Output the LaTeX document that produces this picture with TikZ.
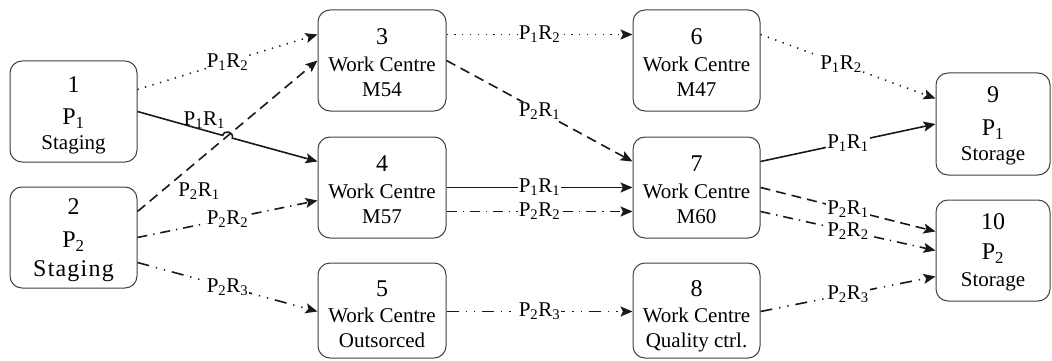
\documentclass[tikz,border=0pt]{standalone}
\usepackage{fontspec}
\setmainfont{Liberation Serif}
\usetikzlibrary{arrows.meta}
\newcommand{\PR}[2]{P\textsubscript{#1}R\textsubscript{#2}}
\newcommand{\Psub}[1]{P\textsubscript{#1}}
\tikzset{
  box/.style={draw=black!75, line width=1pt, rounded corners=12pt, inner sep=0pt, fill=white},
  txtA/.style={anchor=base, inner sep=0pt, font=\fontsize{24}{26}\selectfont},
  txtB/.style={anchor=base, inner sep=0pt, font=\fontsize{21}{24}\selectfont},
  conn/.style={draw=black!90, line width=1.6pt, -{Stealth[length=12pt,width=10pt,inset=2.5pt]}},
  solidline/.style={conn},
  dashline/.style={conn, dash pattern=on 10pt off 6pt},
  dotline/.style={conn, dash pattern=on 1.3pt off 6.5pt},
  dashdotline/.style={conn, dash pattern=on 10pt off 6pt on 1.3pt off 6pt},
  dashdotdotline/.style={conn, dash pattern=on 12pt off 7pt on 1.3pt off 7pt on 1.3pt off 7pt},
  lbl/.style={fill=white, inner sep=1pt, font=\fontsize{21}{24}\selectfont},
}
\begin{document}
\begin{tikzpicture}[x=1pt,y=-1pt]
\useasboundingbox (0,0) rectangle (1052,361);

% boxes
\node[box, minimum width=127pt, minimum height=101pt] (n1) at (73.5,111.5) {};
\node[box, minimum width=127pt, minimum height=101pt] (n2) at (73.5,237.5) {};
\node[box, minimum width=128pt, minimum height=101pt] (n3) at (382,60.5) {};
\node[box, minimum width=128pt, minimum height=101pt] (n4) at (382,187.5) {};
\node[box, minimum width=128pt, minimum height=95pt] (n5) at (382,310.5) {};
\node[box, minimum width=127pt, minimum height=101pt] (n6) at (696.5,60.5) {};
\node[box, minimum width=127pt, minimum height=101pt] (n7) at (696.5,187.5) {};
\node[box, minimum width=127pt, minimum height=95pt] (n8) at (696.5,310.5) {};
\node[box, minimum width=114pt, minimum height=102pt] (n9) at (993,124) {};
\node[box, minimum width=114pt, minimum height=101pt] (n10) at (993,250.5) {};

% box texts
\node[txtA] (n1a) at ([yshift=-32pt]n1.north) {1};
\node[txtA] (n1b) at ([yshift=-64pt]n1.north) {\Psub{1}};
\node[txtB] (n1c) at ([yshift=-89pt]n1.north) {Staging};
\node[txtA] (n2a) at ([yshift=-28pt]n2.north) {2};
\node[txtA] (n2b) at ([yshift=-61pt]n2.north) {\Psub{2}};
\node[txtA] (n2c) at ([yshift=-90pt]n2.north) {\addfontfeatures{LetterSpace=5}Staging};
\node[txtA] (n3a) at ([yshift=-35pt]n3.north) {3};
\node[txtB] (n3b) at ([yshift=-62pt]n3.north) {Work Centre};
\node[txtB] (n3c) at ([yshift=-87pt]n3.north) {M54};
\node[txtA] (n4a) at ([yshift=-35pt]n4.north) {4};
\node[txtB] (n4b) at ([yshift=-62pt]n4.north) {Work Centre};
\node[txtB] (n4c) at ([yshift=-87pt]n4.north) {M57};
\node[txtA] (n5a) at ([yshift=-34pt]n5.north) {5};
\node[txtB] (n5b) at ([yshift=-60pt]n5.north) {Work Centre};
\node[txtB] (n5c) at ([yshift=-85pt]n5.north) {Outsorced};
\node[txtA] (n6a) at ([yshift=-35pt]n6.north) {6};
\node[txtB] (n6b) at ([yshift=-62pt]n6.north) {Work Centre};
\node[txtB] (n6c) at ([yshift=-87pt]n6.north) {M47};
\node[txtA] (n7a) at ([yshift=-35pt]n7.north) {7};
\node[txtB] (n7b) at ([yshift=-62pt]n7.north) {Work Centre};
\node[txtB] (n7c) at ([yshift=-87pt]n7.north) {M60};
\node[txtA] (n8a) at ([yshift=-34pt]n8.north) {8};
\node[txtB] (n8b) at ([yshift=-60pt]n8.north) {Work Centre};
\node[txtB] (n8c) at ([yshift=-85pt]n8.north) {Quality ctrl.};
\node[txtA] (n9a) at ([yshift=-30pt]n9.north) {9};
\node[txtA] (n9b) at ([yshift=-63pt]n9.north) {\Psub{1}};
\node[txtB] (n9c) at ([yshift=-88pt]n9.north) {Storage};
\node[txtA] (n10a) at ([yshift=-30pt]n10.north) {10};
\node[txtA] (n10b) at ([yshift=-60pt]n10.north) {\Psub{2}};
\node[txtB] (n10c) at ([yshift=-87pt]n10.north) {Storage};

% hop coordinates on 1->4
\coordinate (hopA) at (222.7,135.4);
\coordinate (hopC1) at (224.4,129.3);
\coordinate (hopC2) at (234.0,131.9);
\coordinate (hopB) at (232.3,138.1);

% column 1 connectors
\draw[dashline] ([yshift=-25pt]n2.north east) -- (n3.west);
\draw[dotline] ([yshift=-29pt]n1.north east) -- node[lbl, pos=0.5] {\PR{1}{2}} ([yshift=-25pt]n3.north west);
\draw[solidline] (n1.east) -- (hopA) .. controls (hopC1) and (hopC2) .. (hopB) -- node[lbl, fill=none, pos=0.0, yshift=18pt, xshift=-28pt] {\PR{1}{1}} ([yshift=-25pt]n4.north west);
\node[lbl, fill=none] (l21) at (199,191) {\PR{2}{1}};
\draw[dashdotline] (n2.east) -- node[lbl, pos=0.5] {\PR{2}{2}} ([yshift=-64pt]n4.north west);
\draw[dashdotdotline] ([yshift=-76pt]n2.north east) -- node[lbl, pos=0.5] {\PR{2}{3}} ([yshift=-49pt]n5.north west);

% column 2 connectors
\draw[dotline] ([yshift=-25pt]n3.north east) -- node[lbl, pos=0.5] {\PR{1}{2}} ([yshift=-25pt]n6.north west);
\draw[dashline] (n3.east) -- node[lbl, pos=0.5] {\PR{2}{1}} ([yshift=-25pt]n7.north west);
\draw[solidline] ([yshift=-51pt]n4.north east) -- node[lbl, pos=0.5] {\PR{1}{1}} ([yshift=-51pt]n7.north west);
\draw[dashdotline] ([yshift=-75pt]n4.north east) -- node[lbl, pos=0.5] {\PR{2}{2}} ([yshift=-75pt]n7.north west);
\draw[dashdotdotline] ([yshift=-49pt]n5.north east) -- node[lbl, pos=0.5] {\PR{2}{3}} ([yshift=-49pt]n8.north west);

% column 3 connectors
\draw[dotline] ([yshift=-25pt]n6.north east) -- node[lbl, pos=0.46] {\PR{1}{2}} ([yshift=-26pt]n9.north west);
\draw[solidline] ([yshift=-25pt]n7.north east) -- node[lbl, pos=0.5] {\PR{1}{1}} (n9.west);
\draw[dashline] (n7.east) -- node[lbl, pos=0.5] {\PR{2}{1}} ([yshift=-32pt]n10.north west);
\draw[dashdotline] ([yshift=-75pt]n7.north east) -- node[lbl, pos=0.5] {\PR{2}{2}} (n10.west);
\draw[dashdotdotline] ([yshift=-49pt]n8.north east) -- node[lbl, pos=0.5] {\PR{2}{3}} ([yshift=-77pt]n10.north west);
\end{tikzpicture}
\end{document}
